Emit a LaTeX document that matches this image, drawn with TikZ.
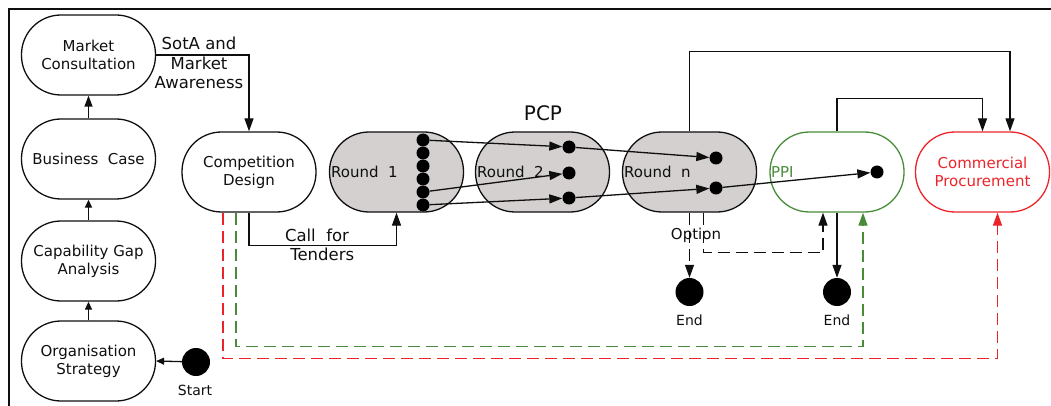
\documentclass[tikz,border=0pt]{standalone}
\usepackage{fontspec}
\setmainfont{DejaVu Sans}
\usetikzlibrary{arrows.meta,calc}
\definecolor{roundgray}{RGB}{211,208,207}
\definecolor{ppigreen}{RGB}{72,140,58}
\definecolor{cpred}{RGB}{236,36,42}
\definecolor{ink}{RGB}{15,15,15}

\begin{document}
\begin{tikzpicture}[x=1pt,y=-1pt,
  stage/.style={draw=ink, line width=1.3pt, rounded corners=39.5pt,
    minimum width=134pt, minimum height=80pt, align=center, inner sep=0pt,
    font=\fontsize{15}{18}\selectfont, text=ink},
  roundbox/.style={stage, fill=roundgray},
  dot/.style={circle, fill=black, minimum size=13pt, inner sep=0pt},
  bigdot/.style={circle, fill=black, minimum size=28pt, inner sep=0pt},
  lbl/.style={font=\fontsize{14}{19.5}\selectfont, text=ink, align=center, inner sep=0pt},
  biglbl/.style={lbl, font=\fontsize{16.5}{19.5}\selectfont},
  flow/.style={draw=ink, line width=1.3pt, -{Triangle[length=13pt,width=9pt]}},
  smallflow/.style={draw=ink, line width=1.3pt, -{Triangle[length=8pt,width=7pt]}},
  dashflow/.style={flow, dash pattern=on 12pt off 6pt},
]
\useasboundingbox (0,0) rectangle (1051,406);

% frame
\draw[line width=2pt, ink] (9,406) -- (9,9) -- (1051,9);

% preparation stack
\node[stage] (mc)  at (88.5,55)  {Market\\Consultation};
\node[stage] (bc)  at (88.5,159) {Business\ \ Case};
\node[stage] (cga) at (88.5,261) {Capability Gap\\Analysis};
\node[stage] (os)  at (88.5,361) {Organisation\\Strategy};

\node[bigdot] (start) at (196,362) {};
\node[lbl] (startlbl) at (195,390) {Start};

\draw[smallflow] (start) -- (os.east);
\draw[smallflow] (os.north) -- (cga.south);
\draw[smallflow] (cga.north) -- (bc.south);
\draw[flow, -{Triangle[length=11pt,width=8pt]}] (bc.north) -- (mc.south);

% competition and PCP rounds
\node[stage] (cd) at (249,172) {Competition\\Design};
\node[roundbox] (r1) at (396.5,172) {};
\node[roundbox] (r2) at (542.5,172) {};
\node[roundbox] (rn) at (689.5,172) {};
\node[stage, draw=ppigreen] (ppi) at (837,172) {};
\node[stage, draw=cpred, text=cpred] (cp) at (982.5,172) {Commercial\\Procurement};

\node[lbl, font=\fontsize{15}{18}\selectfont, anchor=west] (r1lbl) at ($(r1.west)+(2,0)$) {Round\ \ 1};
\node[lbl, font=\fontsize{15}{18}\selectfont, anchor=west] (r2lbl) at ($(r2.west)+(2,0)$) {Round\ \ 2};
\node[lbl, font=\fontsize{15}{18}\selectfont, anchor=west] (rnlbl) at ($(rn.west)+(2,0)$) {Round\ \ n};
\node[lbl, font=\fontsize{15}{18}\selectfont, anchor=west, text=ppigreen] (ppilbl) at ($(ppi.west)+(1.5,0)$) {PPI};
\node[lbl, font=\fontsize{20}{24}\selectfont] (pcp) at (543,113) {PCP};

% proposals carried between rounds
\foreach \i/\y in {1/140,2/153,3/166,4/179,5/192,6/205}
  \node[dot] (a\i) at (423,\y) {};
\node[dot] (b1) at (569,147) {};
\node[dot] (b2) at (569,173) {};
\node[dot] (b3) at (569,198) {};
\node[dot] (c1) at (716,158) {};
\node[dot] (c2) at (716,188) {};
\node[dot] (d1) at (877,172) {};

\draw[flow] (a1) -- (b1);
\draw[flow] (a5) -- (b2);
\draw[flow] (a6) -- (b3);
\draw[flow] (b1) -- (c1);
\draw[flow] (b3) -- (c2);
\draw[flow] (c2) -- (d1);

% main connectors
\draw[flow] (mc.east) -| (cd.north);
\node[biglbl] (sota) at (199,63) {SotA and\\Market\\Awareness};

\draw[flow] (cd.south) -- ++(0,33) -| (r1.south);
\node[biglbl] (cft) at (317,245) {Call\ \ for\\\ \ Tenders};

\draw[flow] (rn.north) -- ++(0,-80) -| ([xshift=27.5pt]cp.north);
\draw[flow] (ppi.north) -- ++(0,-33) -| (cp.north);

% endings
\node[bigdot] (end1) at (689.5,292) {};
\node[bigdot] (end2) at (837,292) {};
\node[lbl] (end1lbl) at (689.5,320) {End};
\node[lbl] (end2lbl) at (837,320) {End};

\draw[dashflow] (rn.south) -- (end1);
\node[lbl, font=\fontsize{15}{18}\selectfont] (option) at (696,235) {Option};
\draw[dashflow] ([xshift=14pt]rn.south) -- ++(0,40) -| ([xshift=-14pt]ppi.south);
\draw[flow] (ppi.south) -- (end2);

% direct routes from the competition design
\draw[dashflow, draw=ppigreen, -{Triangle[length=13pt,width=9pt,fill=ppigreen]}]
  ([xshift=-13pt]cd.south) -- ++(0,134) -| ([xshift=26pt]ppi.south);
\draw[dashflow, draw=cpred, -{Triangle[length=13pt,width=9pt,fill=cpred]}]
  ([xshift=-26pt]cd.south) -- ++(0,146) -| ([xshift=15pt]cp.south);
\end{tikzpicture}
\end{document}
